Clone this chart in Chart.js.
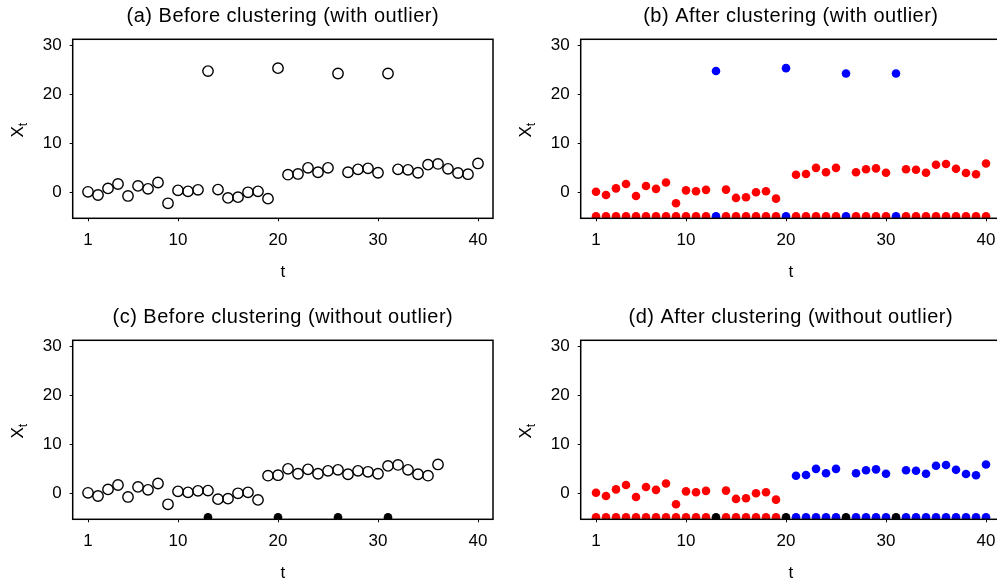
<!DOCTYPE html>
<html>
<head>
<meta charset="utf-8">
<script src="https://cdn.jsdelivr.net/npm/chart.js@4.4.0/dist/chart.umd.min.js"></script>
<style>
  html, body { margin: 0; padding: 0; background: #fff; overflow: hidden; }
  body { width: 997px; height: 581px; position: relative; }
  .panel { position: absolute; width: 508px; height: 290px; }
</style>
</head>
<body>
<div class="panel" style="left:0;top:0"><canvas id="chart-a" width="508" height="290"></canvas></div>
<div class="panel" style="left:508px;top:0"><canvas id="chart-b" width="508" height="290"></canvas></div>
<div class="panel" style="left:0;top:301px"><canvas id="chart-c" width="508" height="290"></canvas></div>
<div class="panel" style="left:508px;top:301px"><canvas id="chart-d" width="508" height="290"></canvas></div>
<script>
// Data
const tValues = [1, 2, 3, 4, 5, 6, 7, 8, 9, 10, 11, 12, 13, 14, 15, 16, 17, 18, 19, 20,
  21, 22, 23, 24, 25, 26, 27, 28, 29, 30, 31, 32, 33, 34, 35, 36, 37, 38, 39, 40];
const xWithOutlier = [0.1, -0.55, 0.8, 1.7, -0.75, 1.3, 0.7, 2.0, -2.25, 0.4,
  0.2, 0.5, 24.8, 0.55, -1.15, -1.0, 0.0, 0.2, -1.3, 25.4,
  3.6, 3.75, 5.0, 4.1, 5.0, 24.3, 4.1, 4.7, 4.9, 4.0,
  24.3, 4.7, 4.6, 4.0, 5.65, 5.8, 4.8, 3.95, 3.7, 5.9];
const xWithoutOutlier = [0.1, -0.55, 0.8, 1.7, -0.75, 1.3, 0.7, 2.0, -2.25, 0.4,
  0.2, 0.5, 0.55, -1.2, -1.1, 0.0, 0.2, -1.35, 3.6, 3.7,
  5.0, 4.0, 4.9, 4.0, 4.6, 4.8, 3.9, 4.6, 4.4, 4.0,
  5.6, 5.8, 4.8, 3.9, 3.6, 5.9];
const outlierT = [13, 20, 26, 31];
// cluster labels: 0 = red, 1 = blue, 2 = black (outlier)
const clusterWithOutlier = [0, 0, 0, 0, 0, 0, 0, 0, 0, 0, 0, 0, 1, 0, 0, 0, 0, 0, 0, 1,
  0, 0, 0, 0, 0, 1, 0, 0, 0, 0, 1, 0, 0, 0, 0, 0, 0, 0, 0, 0];
const clusterWithoutOutlier = [0, 0, 0, 0, 0, 0, 0, 0, 0, 0, 0, 0, 2, 0, 0, 0, 0, 0, 0, 2,
  1, 1, 1, 1, 1, 2, 1, 1, 1, 1, 2, 1, 1, 1, 1, 1, 1, 1, 1, 1];
const xTicks = [1, 10, 20, 30, 40];
const yTicks = [0, 10, 20, 30];
const titles = [
  "(a) Before clustering (with outlier)",
  "(b) After clustering (with outlier)",
  "(c) Before clustering (without outlier)",
  "(d) After clustering (without outlier)",
];

const colors = ["#ff0000", "#0000ff", "#000000"];
const baseY = -4.9; // cluster strip along the bottom axis
const FONT = "'Liberation Sans', Arial, sans-serif";

function pts(xs, ys) {
  return xs.map((x, i) => ({ x: x, y: ys[i] }));
}

// frame + titles
const decor = {
  id: "decor",
  afterDatasetsDraw(chart, args, opts) {
    const { ctx, chartArea: { left, right, top, bottom } } = chart;
    ctx.save();
    ctx.strokeStyle = "#000";
    ctx.lineWidth = 1.5;
    ctx.strokeRect(left, top, right - left, bottom - top);

    const cx = (left + right) / 2;
    ctx.fillStyle = "#000";
    ctx.textAlign = "center";
    ctx.textBaseline = "middle";
    ctx.letterSpacing = "0.5px";
    ctx.font = "20px " + FONT;
    ctx.fillText(opts.title, cx, 16);
    ctx.letterSpacing = "0px";

    ctx.font = "17px " + FONT;
    ctx.fillText("t", cx, 272);

    // X_t rotated
    ctx.translate(17, (top + bottom) / 2);
    ctx.rotate(-Math.PI / 2);
    ctx.textAlign = "left";
    ctx.textBaseline = "alphabetic";
    ctx.font = "17px " + FONT;
    const w = ctx.measureText("X").width;
    ctx.fillText("X", -w / 2 - 3, 6);
    ctx.font = "12px " + FONT;
    ctx.fillText("t", w / 2 - 3, 10);
    ctx.restore();
  },
};

function makeChart(id, title, datasets) {
  return new Chart(document.getElementById(id), {
    type: "scatter",
    data: { datasets: datasets },
    options: {
      responsive: false,
      animation: false,
      devicePixelRatio: 1,
      layout: { padding: { left: 0, right: 15, top: 39.3, bottom: 0 } },
      scales: {
        x: {
          type: "linear",
          min: -0.53,
          max: 41.5,
          afterBuildTicks: (scale) => { scale.ticks = xTicks.map((v) => ({ value: v })); },
          afterFit: (scale) => { scale.height = 71.7; },
          grid: { drawOnChartArea: false, drawTicks: true, tickLength: 3, color: "#000", lineWidth: 1 },
          border: { display: false },
          ticks: { color: "#000", font: { size: 17, family: FONT }, padding: 9, maxRotation: 0 },
        },
        y: {
          type: "linear",
          min: -5.32,
          max: 31.3,
          afterBuildTicks: (scale) => { scale.ticks = yTicks.map((v) => ({ value: v })); },
          afterFit: (scale) => { scale.width = 72.7; },
          grid: { drawOnChartArea: false, drawTicks: true, tickLength: 3, color: "#000", lineWidth: 1 },
          border: { display: false },
          ticks: { color: "#000", font: { size: 17, family: FONT }, padding: 8 },
        },
      },
      plugins: {
        legend: { display: false },
        tooltip: { enabled: false },
        decor: { title: title },
      },
    },
    plugins: [decor],
  });
}

function openCircles(data) {
  return {
    data: data,
    pointRadius: 5.2,
    pointBorderWidth: 1.4,
    pointBorderColor: "#000",
    pointBackgroundColor: "rgba(255,255,255,0)",
    clip: { left: 10, top: 10, right: 10, bottom: 0 },
  };
}

function dots(data, color) {
  return {
    data: data,
    pointRadius: 4.3,
    pointBorderWidth: 0,
    pointBackgroundColor: color,
    clip: { left: 10, top: 10, right: 10, bottom: 0 },
  };
}

function pick(labels, wanted) {
  const xs = [], ys = [];
  tValues.forEach((t, i) => {
    if (labels[i] === wanted) { xs.push(t); ys.push(xWithOutlier[i]); }
  });
  return pts(xs, ys);
}

const strip = pts(tValues, tValues.map(() => baseY));

// (a)
makeChart("chart-a", titles[0], [openCircles(pts(tValues, xWithOutlier))]);

// (b)
makeChart("chart-b", titles[1], [
  dots(pick(clusterWithOutlier, 0), colors[0]),
  dots(pick(clusterWithOutlier, 1), colors[1]),
  dots(strip, clusterWithOutlier.map((c) => colors[c])),
]);

// (c)
makeChart("chart-c", titles[2], [
  openCircles(pts(tValues.slice(0, xWithoutOutlier.length), xWithoutOutlier)),
  dots(pts(outlierT, outlierT.map(() => baseY)), colors[2]),
]);

// (d)
makeChart("chart-d", titles[3], [
  dots(pick(clusterWithoutOutlier, 0), colors[0]),
  dots(pick(clusterWithoutOutlier, 1), colors[1]),
  dots(strip, clusterWithoutOutlier.map((c) => colors[c])),
]);
</script>
</body>
</html>
